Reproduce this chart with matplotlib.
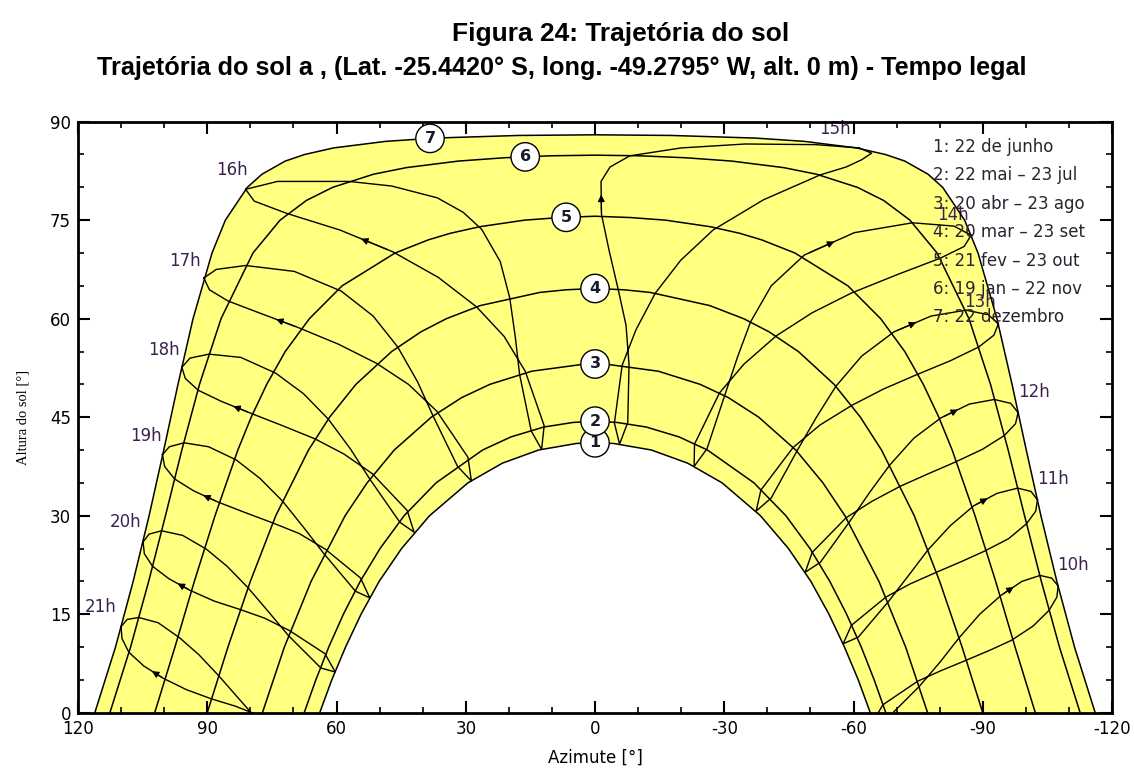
import matplotlib
matplotlib.use("Agg")
import matplotlib.pyplot as plt
import numpy as np
from matplotlib.ticker import MultipleLocator

# Sun path diagram, Lat -25.4420, long -49.2795, legal time.
# Date curves: west half only, from the horizon up to the noon point (az 0).
# They are symmetric about north, the east half is the mirror image.
c1_az = [63.9, 61.1, 57.9, 54.3, 50.1, 44.9, 38.4, 29.5, 21.5, 13.1, 4.3, 0.0]
c1_alt = [0, 5, 10, 15, 20, 25, 30, 35, 38, 40, 41, 41.1]
c2_az = [67.5, 64.8, 61.8, 58.4, 54.5, 49.9, 44.3, 36.9, 26.1, 19.5, 11.9, 5.1, 0.0]
c2_alt = [0, 5, 10, 15, 20, 25, 30, 35, 40, 42, 43.5, 44.2, 44.4]
c3_az = [77.2, 72.1, 65.9, 58.0, 52.9, 46.6, 38.0, 30.9, 24.4, 14.7, 3.4, 0.0]
c3_alt = [0, 10, 20, 30, 35, 40, 45, 48, 50, 52, 53, 53.1]
c4_az = [90.0, 85.2, 80.0, 74.1, 66.5, 61.6, 55.5, 47.2, 40.4, 34.5, 26.6, 12.8, 6.7, 0.0]
c4_alt = [0, 10, 20, 30, 40, 45, 50, 55, 58, 60, 62, 64, 64.4, 64.6]
c5_az = [102.2, 97.5, 93.0, 88.2, 82.9, 79.8, 76.2, 71.9, 66.3, 58.7, 46.4, 38.7, 33.6, 26.8, 16.4, 8.2, 0.0]
c5_alt = [0, 10, 20, 30, 40, 45, 50, 55, 60, 65, 70, 72, 73, 74, 75, 75.4, 75.6]
c6_az = [112.6, 107.8, 103.6, 99.7, 95.9, 91.8, 86.8, 79.4, 73.1, 67.0, 60.9, 51.4, 43.8, 31.7, 21.1, 10.5, 0.0]
c6_alt = [0, 10, 20, 30, 40, 50, 60, 70, 75, 78, 80, 82, 83, 84, 84.5, 84.8, 84.9]
c7_az = [116.1, 111.3, 107.2, 103.5, 100.1, 96.8, 93.3, 88.9, 85.8, 80.7, 77.3, 71.9, 67.4, 60.7, 48.6, 37.2, 17.8, 0.0]
c7_alt = [0, 10, 20, 30, 40, 50, 60, 70, 75, 80, 82, 84, 85, 86, 87, 87.5, 87.9, 88.0]

date_names = ["1: 22 de junho", "2: 22 mai \u2013 23 jul", "3: 20 abr \u2013 23 ago",
              "4: 20 mar \u2013 23 set", "5: 21 fev \u2013 23 out", "6: 19 jan \u2013 22 nov",
              "7: 22 dezembro"]
curve_label_az = [0, 0, 0, 0, 6.7, 16.2, 38.3]

# Hour lines (analemmas), one point per date, starting at 22 Dec
dates = ["22/12", "05/01", "19/01", "05/02", "21/02", "07/03", "20/03", "05/04", "20/04",
         "22/05", "22/06", "23/07", "23/08", "08/09", "23/09", "08/10", "23/10", "07/11",
         "22/11", "07/12"]
dates_15h = ["22/12", "29/12", "05/01", "12/01", "19/01", "05/02", "21/02", "07/03", "20/03",
             "05/04", "20/04", "22/05", "22/06", "23/07", "23/08", "08/09", "23/09", "08/10",
             "23/10", "07/11", "15/11", "22/11", "30/11", "07/12", "14/12"]
dates_16h = ["22/12", "05/01", "19/01", "27/01", "05/02", "13/02", "21/02", "07/03", "20/03",
             "05/04", "20/04", "22/05", "22/06", "23/07", "23/08", "08/09", "23/09", "08/10",
             "23/10", "07/11", "22/11", "07/12"]

h10_az = [-107.5, -107.2, -105.4, -101.7, -96.6, -91.6, -86.2, -80.3, -74.9, -66.8, -64.6, -68.1, -75.4, -80.2, -84.5, -89.3, -94.3, -99.1, -103.3, -106.0]
h10_alt = [19.3, 17.6, 15.6, 13.2, 11.0, 9.5, 8.0, 6.4, 4.8, 1.2, -1.3, -0.7, 4.1, 7.8, 11.4, 15.0, 17.9, 20.0, 20.9, 20.5]
h11_az = [-102.7, -102.3, -100.2, -96.0, -90.4, -85.0, -79.3, -73.1, -67.5, -59.5, -57.6, -61.1, -68.2, -72.9, -77.3, -82.5, -87.9, -93.3, -98.1, -101.2]
h11_alt = [32.4, 30.7, 28.8, 26.5, 24.6, 23.0, 21.4, 19.6, 17.6, 13.3, 10.5, 11.5, 17.0, 21.0, 24.8, 28.5, 31.5, 33.4, 34.2, 33.7]
h12_az = [-98.2, -97.6, -95.0, -89.9, -83.4, -77.4, -70.9, -64.3, -58.3, -50.4, -48.8, -52.3, -59.1, -63.8, -68.4, -74.0, -80.3, -86.9, -92.7, -96.5]
h12_alt = [45.7, 44.0, 42.2, 40.1, 38.1, 36.4, 34.5, 32.2, 29.7, 24.4, 21.4, 22.9, 29.1, 33.6, 37.7, 41.8, 44.9, 47.0, 47.7, 47.1]
h13_az = [-93.6, -92.6, -89.1, -82.5, -74.4, -67.0, -59.6, -52.2, -46.0, -38.5, -37.4, -40.9, -47.0, -51.4, -55.9, -61.9, -69.4, -78.0, -86.1, -91.3]
h13_alt = [59.2, 57.5, 55.7, 53.6, 51.4, 49.3, 46.8, 43.8, 40.4, 33.9, 30.7, 32.7, 40.0, 45.0, 49.7, 54.3, 58.0, 60.4, 61.3, 60.6]
h14_az = [-87.3, -85.7, -80.1, -70.5, -59.5, -50.4, -42.1, -34.6, -28.9, -23.1, -23.0, -26.0, -30.2, -33.1, -36.1, -40.9, -48.6, -60.2, -73.7, -83.3]
h14_alt = [72.7, 71.0, 69.2, 66.8, 63.9, 60.9, 57.4, 53.1, 48.7, 40.9, 37.5, 40.2, 48.5, 54.2, 59.5, 65.0, 69.7, 73.1, 74.6, 74.1]
h15_az = [-61.3, -64.2, -61.9, -58.3, -52.3, -39.1, -27.4, -19.9, -14.0, -9.5, -6.3, -4.5, -5.7, -7.6, -7.9, -7.2, -5.4, -3.3, -1.5, -1.4, -3.5, -8.1, -20.0, -34.9, -51.3]
h15_alt = [86.0, 85.2, 84.2, 83.1, 81.9, 78.1, 73.5, 68.9, 63.9, 58.3, 52.9, 44.1, 40.9, 44.2, 53.0, 59.0, 64.4, 70.3, 75.9, 80.9, 83.1, 84.8, 86.0, 86.6, 86.5]
h16_az = [81.1, 73.7, 57.1, 47.2, 36.6, 30.6, 26.3, 22.0, 19.8, 18.5, 17.5, 14.8, 12.4, 11.8, 16.2, 21.1, 27.5, 36.4, 47.0, 59.2, 71.4, 79.1]
h16_alt = [79.7, 80.9, 80.9, 80.2, 78.4, 76.2, 73.6, 68.7, 63.2, 57.2, 51.5, 42.9, 40.1, 43.7, 52.0, 57.3, 61.8, 66.3, 70.2, 73.5, 76.0, 77.9]
h17_az = [90.8, 87.9, 81.1, 69.8, 58.9, 51.5, 45.8, 41.2, 37.6, 31.9, 28.7, 29.5, 36.7, 43.3, 50.7, 59.5, 68.7, 77.6, 85.2, 89.5]
h17_alt = [66.2, 67.5, 68.1, 67.2, 64.2, 60.4, 55.7, 50.4, 45.2, 37.5, 35.3, 38.9, 45.9, 50.0, 53.2, 56.1, 58.6, 60.8, 62.7, 64.4]
h18_az = [95.9, 94.0, 89.6, 82.2, 74.1, 67.7, 61.9, 56.7, 52.3, 45.3, 42.0, 43.6, 51.7, 58.3, 65.0, 72.5, 79.9, 86.7, 92.1, 95.1]
h18_alt = [52.6, 54.0, 54.6, 54.1, 51.7, 48.6, 44.7, 40.1, 35.6, 29.0, 27.5, 30.8, 36.4, 39.4, 41.7, 43.7, 45.6, 47.4, 49.1, 50.9]
h19_az = [100.4, 98.8, 95.4, 89.7, 83.3, 77.8, 72.5, 67.5, 62.9, 55.6, 52.3, 54.4, 62.6, 68.7, 74.8, 81.3, 87.6, 93.2, 97.6, 99.9]
h19_alt = [39.3, 40.5, 41.1, 40.5, 38.5, 35.7, 32.2, 28.1, 24.2, 18.5, 17.5, 20.5, 24.9, 27.3, 28.9, 30.5, 32.1, 33.8, 35.6, 37.5]
h20_az = [104.9, 103.5, 100.6, 95.7, 90.2, 85.4, 80.5, 75.7, 71.1, 63.6, 60.3, 62.7, 70.9, 76.7, 82.3, 88.4, 93.9, 98.9, 102.7, 104.6]
h20_alt = [26.0, 27.2, 27.7, 27.0, 24.9, 22.3, 19.0, 15.3, 11.7, 6.8, 6.2, 9.0, 12.5, 14.4, 15.7, 17.0, 18.6, 20.4, 22.3, 24.2]
h21_az = [110.0, 108.6, 105.9, 101.4, 96.4, 91.9, 87.3, 82.5, 77.9, 70.2, 66.8, 69.5, 77.7, 83.5, 89.0, 94.8, 100.1, 104.7, 108.2, 109.8]
h21_alt = [13.1, 14.2, 14.5, 13.7, 11.4, 8.8, 5.6, 2.0, -1.4, -5.6, -5.9, -3.4, -0.5, 1.0, 2.1, 3.5, 5.2, 7.1, 9.2, 11.3]


def full_curve(half_az, half_alt):
    az = list(half_az) + [-a for a in half_az[-2::-1]]
    alt = list(half_alt) + list(half_alt[-2::-1])
    return np.array(az), np.array(alt)


date_curves = [(c1_az, c1_alt), (c2_az, c2_alt), (c3_az, c3_alt), (c4_az, c4_alt),
               (c5_az, c5_alt), (c6_az, c6_alt), (c7_az, c7_alt)]

hour_lines = [
    ("10h", h10_az, h10_alt, dates), ("11h", h11_az, h11_alt, dates),
    ("12h", h12_az, h12_alt, dates), ("13h", h13_az, h13_alt, dates),
    ("14h", h14_az, h14_alt, dates), ("15h", h15_az, h15_alt, dates_15h),
    ("16h", h16_az, h16_alt, dates_16h), ("17h", h17_az, h17_alt, dates),
    ("18h", h18_az, h18_alt, dates), ("19h", h19_az, h19_alt, dates),
    ("20h", h20_az, h20_alt, dates), ("21h", h21_az, h21_alt, dates),
]
# label offset (pixels) from the 22 Dec end of each hour line
label_offset = {"10h": (15, 21), "11h": (16, 21), "12h": (16, 21), "13h": (-18, 22),
                "14h": (-18, 20), "15h": (-24, 19), "16h": (-14, 19), "17h": (-19, 17),
                "18h": (-18, 17), "19h": (-17, 19), "20h": (-18, 20), "21h": (-20, 20)}

plt.rcParams["font.family"] = ["DejaVu Sans"]
plt.rcParams["axes.unicode_minus"] = False

fig = plt.figure(figsize=(11.34, 7.71), dpi=100)
ax = fig.add_axes([0.0688, 0.0756, 0.9118, 0.7666])

outer_az, outer_alt = full_curve(c7_az, c7_alt)
inner_az, inner_alt = full_curve(c1_az, c1_alt)
ax.fill(np.concatenate([outer_az, inner_az[::-1]]),
        np.concatenate([outer_alt, inner_alt[::-1]]),
        color="#ffff80", lw=0, zorder=1)

for az, alt in date_curves:
    faz, falt = full_curve(az, alt)
    ax.plot(faz, falt, color="black", lw=1.1, zorder=3)

for name, az, alt, d in hour_lines:
    ax.plot(az + az[:1], alt + alt[:1], color="black", lw=1.0, zorder=3)

    # direction arrow, end of October
    i0, i1 = d.index("23/10"), d.index("07/11")
    p0 = np.array([az[i0], alt[i0]])
    p1 = np.array([az[i1], alt[i1]])
    ax.annotate("", xy=p0 + 0.6 * (p1 - p0), xytext=p0 + 0.1 * (p1 - p0),
                arrowprops=dict(arrowstyle="-|>", color="black", lw=0.9,
                                mutation_scale=10, shrinkA=0, shrinkB=0),
                zorder=4)

    ax.annotate(name, xy=(az[0], alt[0]), xytext=label_offset[name],
                textcoords="offset pixels", ha="center", va="center",
                fontsize=12, color="#3b2150", zorder=2)

for k, ((az, alt), laz) in enumerate(zip(date_curves, curve_label_az)):
    lalt = np.interp(laz, az[::-1], alt[::-1])
    ax.text(laz, lalt, str(k + 1), ha="center", va="center", fontsize=11.5,
            fontweight="bold", color="#1a1a2a", zorder=6,
            bbox=dict(boxstyle="circle,pad=0.42", fc="white", ec="black", lw=1.0))

for k, name in enumerate(date_names):
    ax.text(0.827, 0.957 - k * 0.048, name, transform=ax.transAxes,
            ha="left", va="center", fontsize=12, color="#2a2430", zorder=5)

ax.set_xlim(120, -120)
ax.set_ylim(0, 90)
ax.xaxis.set_major_locator(MultipleLocator(30))
ax.xaxis.set_minor_locator(MultipleLocator(10))
ax.yaxis.set_major_locator(MultipleLocator(15))
ax.yaxis.set_minor_locator(MultipleLocator(5))
ax.tick_params(which="both", direction="in", top=True, right=True, labelsize=12, pad=5)
ax.tick_params(which="major", length=8.5, width=1.5)
ax.tick_params(which="minor", length=4, width=1.2)
for s in ax.spines.values():
    s.set_linewidth(2)

ax.set_xlabel("Azimute [\u00b0]", fontsize=12, labelpad=8)
ax.set_ylabel("Altura do sol [\u00b0]", fontsize=10.5, family="Liberation Serif", labelpad=15)

fig.text(0.547, 0.956, "Figura 24: Trajet\u00f3ria do sol", ha="center", va="center",
         fontsize=19, fontweight="bold", family="Liberation Sans")
fig.text(0.495, 0.912,
         "Trajet\u00f3ria do sol a , (Lat. -25.4420\u00b0 S, long. -49.2795\u00b0 W, alt. 0 m) - Tempo legal",
         ha="center", va="center", fontsize=18.2, fontweight="bold", family="Liberation Sans")

fig.savefig("out.png", dpi=100)
